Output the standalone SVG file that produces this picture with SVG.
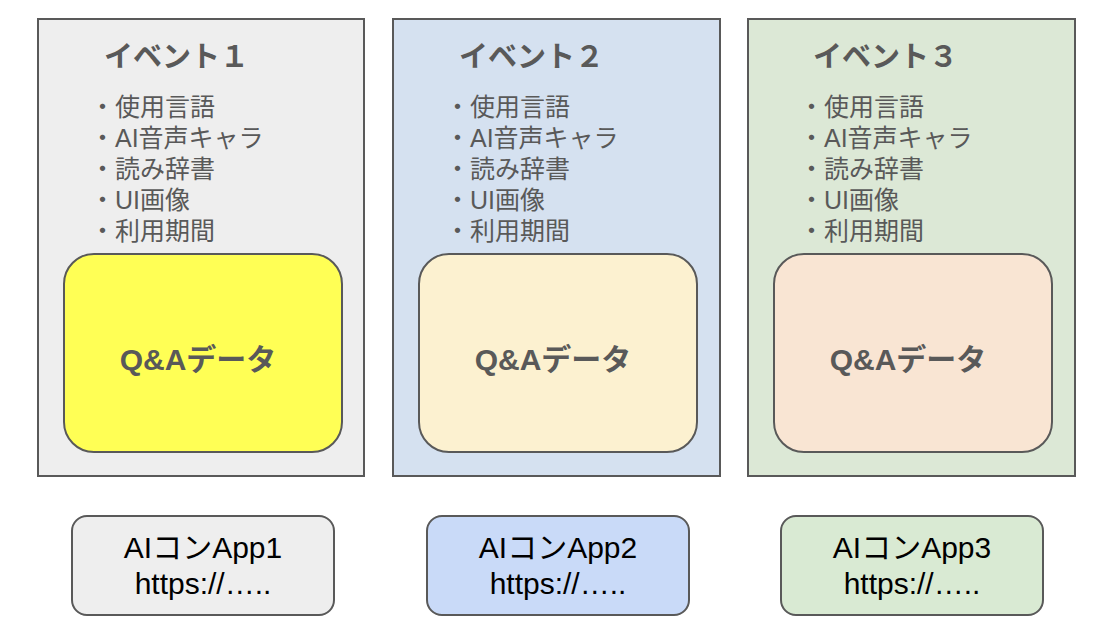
<svg xmlns="http://www.w3.org/2000/svg" width="1106" height="634" viewBox="0 0 1106 634">
<style>
.ev{stroke:#595959;stroke-width:2}
.qa{stroke:#595959;stroke-width:2}
.app{stroke:#595959;stroke-width:2}
.title{font-family:"Liberation Sans","Noto Sans CJK JP",sans-serif;font-size:29px;font-weight:bold;fill:#595959}
.item{font-family:"Liberation Sans","Noto Sans CJK JP",sans-serif;font-size:25px;fill:#595959}
.qat{font-family:"Liberation Sans","Noto Sans CJK JP",sans-serif;font-size:30px;font-weight:bold;fill:#595959;text-anchor:middle}
.appt{font-family:"Liberation Sans","Noto Sans CJK JP",sans-serif;font-size:30px;fill:#000000;text-anchor:middle}
</style>
<rect width="1106" height="634" fill="#ffffff"/>
<g id="connectors"></g>
<g id="event1">
<rect class="ev" x="38" y="19" width="326" height="457" fill="#eeeeee"/>
<text class="title" x="104" y="67">イベント１</text>
<text class="item" x="90" y="116">・使用言語</text>
<text class="item" x="90" y="147">・AI音声キャラ</text>
<text class="item" x="90" y="178">・読み辞書</text>
<text class="item" x="90" y="209">・UI画像</text>
<text class="item" x="90" y="240">・利用期間</text>
</g>
<g id="qa1">
<rect class="qa" x="64" y="254" width="278" height="198" rx="30" fill="#ffff55"/>
<text class="qat" x="198" y="370">Q&amp;Aデータ</text>
</g>
<g id="event2">
<rect class="ev" x="393" y="19" width="327" height="457" fill="#d5e1f0"/>
<text class="title" x="459" y="67">イベント２</text>
<text class="item" x="445" y="116">・使用言語</text>
<text class="item" x="445" y="147">・AI音声キャラ</text>
<text class="item" x="445" y="178">・読み辞書</text>
<text class="item" x="445" y="209">・UI画像</text>
<text class="item" x="445" y="240">・利用期間</text>
</g>
<g id="qa2">
<rect class="qa" x="419" y="254" width="278" height="198" rx="30" fill="#fcf1d0"/>
<text class="qat" x="553" y="370">Q&amp;Aデータ</text>
</g>
<g id="event3">
<rect class="ev" x="748" y="19" width="327" height="457" fill="#dce8d6"/>
<text class="title" x="813" y="67">イベント３</text>
<text class="item" x="799" y="116">・使用言語</text>
<text class="item" x="799" y="147">・AI音声キャラ</text>
<text class="item" x="799" y="178">・読み辞書</text>
<text class="item" x="799" y="209">・UI画像</text>
<text class="item" x="799" y="240">・利用期間</text>
</g>
<g id="qa3">
<rect class="qa" x="774" y="254" width="278" height="198" rx="30" fill="#f9e5d3"/>
<text class="qat" x="908" y="370">Q&amp;Aデータ</text>
</g>
<g id="app1">
<rect class="app" x="72" y="516" width="262" height="99" rx="15" fill="#eeeeee"/>
<text class="appt" x="203" y="558">AIコンApp1</text>
<text class="appt" x="203" y="594">https://…..</text>
</g>
<g id="app2">
<rect class="app" x="427" y="516" width="262" height="99" rx="15" fill="#c9daf8"/>
<text class="appt" x="558" y="558">AIコンApp2</text>
<text class="appt" x="558" y="594">https://…..</text>
</g>
<g id="app3">
<rect class="app" x="781" y="516" width="262" height="99" rx="15" fill="#d9ead3"/>
<text class="appt" x="912" y="558">AIコンApp3</text>
<text class="appt" x="912" y="594">https://…..</text>
</g>
</svg>
